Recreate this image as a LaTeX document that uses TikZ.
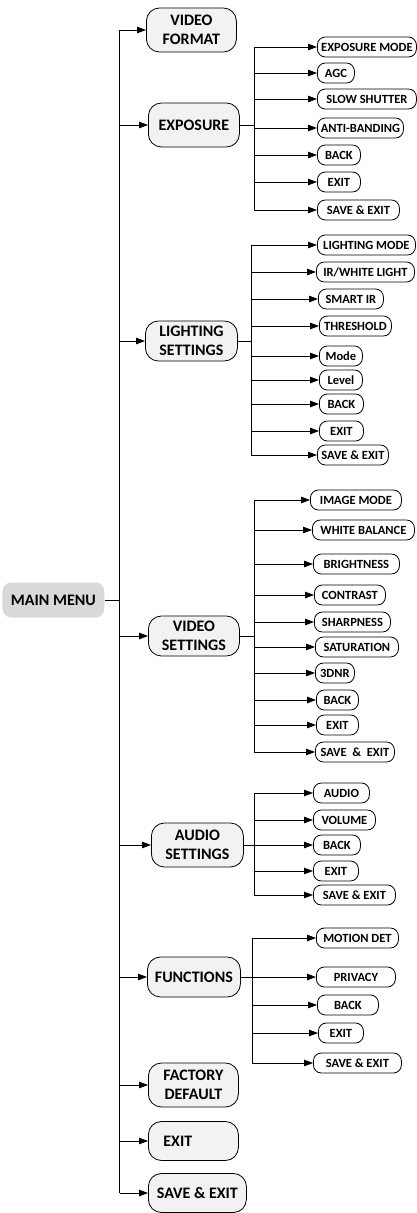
\documentclass[tikz,border=0pt]{standalone}
\usepackage{fontspec}
\setmainfont{Carlito}
\usetikzlibrary{arrows.meta}
\begin{document}
\begin{tikzpicture}[x=1pt,y=-1pt, line width=0.8pt,
 mainbox/.style={draw, rounded corners=13pt, fill=black!5, anchor=west, align=center, font=\fontsize{16}{19.5}\selectfont\bfseries, inner sep=0pt},
 sub/.style={draw, rounded corners=8pt, fill=white, anchor=west, minimum height=20pt, inner sep=0pt, font=\fontsize{12.5}{14}\selectfont\bfseries},
 arr/.style={-{Triangle[length=9pt,width=6.5pt]}},
 ]
\useasboundingbox (0,0) rectangle (417,1213);

% main menu and level-1 boxes
\node[fill=black!15, rounded corners=9pt, anchor=west, minimum width=102pt, minimum height=35pt, inner sep=0pt, font=\fontsize{16}{19.5}\selectfont\bfseries] (mm) at (2,600) {MAIN MENU};
\node[mainbox, minimum width=90pt, minimum height=44pt] (vf) at (146,30) {VIDEO\\FORMAT};
\node[mainbox, minimum width=91pt, minimum height=44pt] (exp) at (148,125) {EXPOSURE};
\node[mainbox, minimum width=92pt, minimum height=40pt] (lig) at (145,341) {LIGHTING\\SETTINGS};
\node[mainbox, minimum width=91pt, minimum height=40pt] (vs) at (148,636) {VIDEO\\SETTINGS};
\node[mainbox, minimum width=92pt, minimum height=44pt] (aud) at (151,845) {AUDIO\\SETTINGS};
\node[mainbox, minimum width=93pt, minimum height=40pt] (fun) at (147,977) {FUNCTIONS};
\node[mainbox, minimum width=90pt, minimum height=44pt] (fd) at (148,1085) {FACTORY\\DEFAULT};
\node[mainbox, minimum width=90pt, minimum height=39pt, text width=60pt, align=left] (ex) at (148,1141) {EXIT};
\node[mainbox, minimum width=98pt, minimum height=39pt] (sx) at (148,1193) {SAVE \& EXIT};

% trunk
\coordinate (tr) at (119.5,600);
\draw (mm.east) -- (mm.east -| tr);
\draw (tr |- vf.west) -- (tr |- sx.west);
\foreach \n in {vf,exp,lig,vs,aud,fun,fd,ex,sx} \draw[arr] (tr |- \n.west) -- (\n.west);

% exposure children
\node[sub, minimum width=99pt] (e1) at (317,47) {EXPOSURE MODE};
\node[sub, minimum width=37pt] (e2) at (317,73) {AGC};
\node[sub, minimum width=99pt] (e3) at (317,99) {SLOW SHUTTER};
\node[sub, minimum width=86pt] (e4) at (317,128) {ANTI-BANDING};
\node[sub, minimum width=43pt] (e5) at (317,155) {BACK};
\node[sub, minimum width=43pt] (e6) at (317,182) {EXIT};
\node[sub, minimum width=82pt] (e7) at (317,210) {SAVE \& EXIT};
\coordinate (be) at (254,0);
\draw (exp.east) -- (exp.east -| be);
\draw (be |- e1.west) -- (be |- e7.west);
\foreach \i in {1,...,7} \draw[arr] (be |- e\i.west) -- (e\i.west);

% lighting children
\node[sub, minimum width=98pt] (l1) at (317,245) {LIGHTING MODE};
\node[sub, minimum width=98pt] (l2) at (316,272) {IR/WHITE LIGHT};
\node[sub, minimum width=65pt] (l3) at (318,299) {SMART IR};
\node[sub, minimum width=72pt] (l4) at (319,326) {THRESHOLD};
\node[sub, minimum width=43pt] (l5) at (319,356) {Mode};
\node[sub, minimum width=43pt] (l6) at (319,380) {Level};
\node[sub, minimum width=44pt] (l7) at (319,404) {BACK};
\node[sub, minimum width=44pt] (l8) at (319,431) {EXIT};
\node[sub, minimum width=71pt] (l9) at (317,455) {SAVE \& EXIT};
\coordinate (bl) at (251,0);
\draw (lig.east) -- (lig.east -| bl);
\draw (bl |- l1.west) -- (bl |- l9.west);
\foreach \i in {1,...,9} \draw[arr] (bl |- l\i.west) -- (l\i.west);

% video settings children
\node[sub, minimum width=91pt] (v1) at (310,500) {IMAGE MODE};
\node[sub, minimum width=102pt] (v2) at (312,530) {WHITE BALANCE};
\node[sub, minimum width=86pt] (v3) at (313,564) {BRIGHTNESS};
\node[sub, minimum width=71pt] (v4) at (314,595) {CONTRAST};
\node[sub, minimum width=76pt] (v5) at (314,622) {SHARPNESS};
\node[sub, minimum width=83pt] (v6) at (315,647) {SATURATION};
\node[sub, minimum width=39pt] (v7) at (315,673) {3DNR};
\node[sub, minimum width=42pt] (v8) at (316,700) {BACK};
\node[sub, minimum width=42pt] (v9) at (316,725) {EXIT};
\node[sub, minimum width=79pt] (v10) at (315,752) {SAVE\ \ \&\ \ EXIT};
\coordinate (bv) at (254,0);
\draw (vs.east) -- (vs.east -| bv);
\draw (bv |- v1.west) -- (bv |- v10.west);
\foreach \i in {1,...,10} \draw[arr] (bv |- v\i.west) -- (v\i.west);

% audio children
\node[sub, minimum width=56pt] (a1) at (313,793) {AUDIO};
\node[sub, minimum width=62pt] (a2) at (313,820) {VOLUME};
\node[sub, minimum width=47pt] (a3) at (313,845) {BACK};
\node[sub, minimum width=45pt] (a4) at (313,871) {EXIT};
\node[sub, minimum width=82pt] (a5) at (313,895) {SAVE \& EXIT};
\coordinate (ba) at (254,0);
\draw (aud.east) -- (aud.east -| ba);
\draw (ba |- a1.west) -- (ba |- a5.west);
\foreach \i in {1,...,5} \draw[arr] (ba |- a\i.west) -- (a\i.west);

% functions children
\node[sub, minimum width=82pt] (f1) at (316,938) {MOTION DET};
\node[sub, minimum width=79pt] (f2) at (316,977) {PRIVACY};
\node[sub, minimum width=61pt] (f3) at (317,1005) {BACK};
\node[sub, minimum width=45pt] (f4) at (318,1033) {EXIT};
\node[sub, minimum width=88pt] (f5) at (313,1063) {SAVE \& EXIT};
\coordinate (bf) at (252,0);
\draw (fun.east) -- (fun.east -| bf);
\draw (bf |- f1.west) -- (bf |- f5.west);
\foreach \i in {1,...,5} \draw[arr] (bf |- f\i.west) -- (f\i.west);
\end{tikzpicture}
\end{document}
